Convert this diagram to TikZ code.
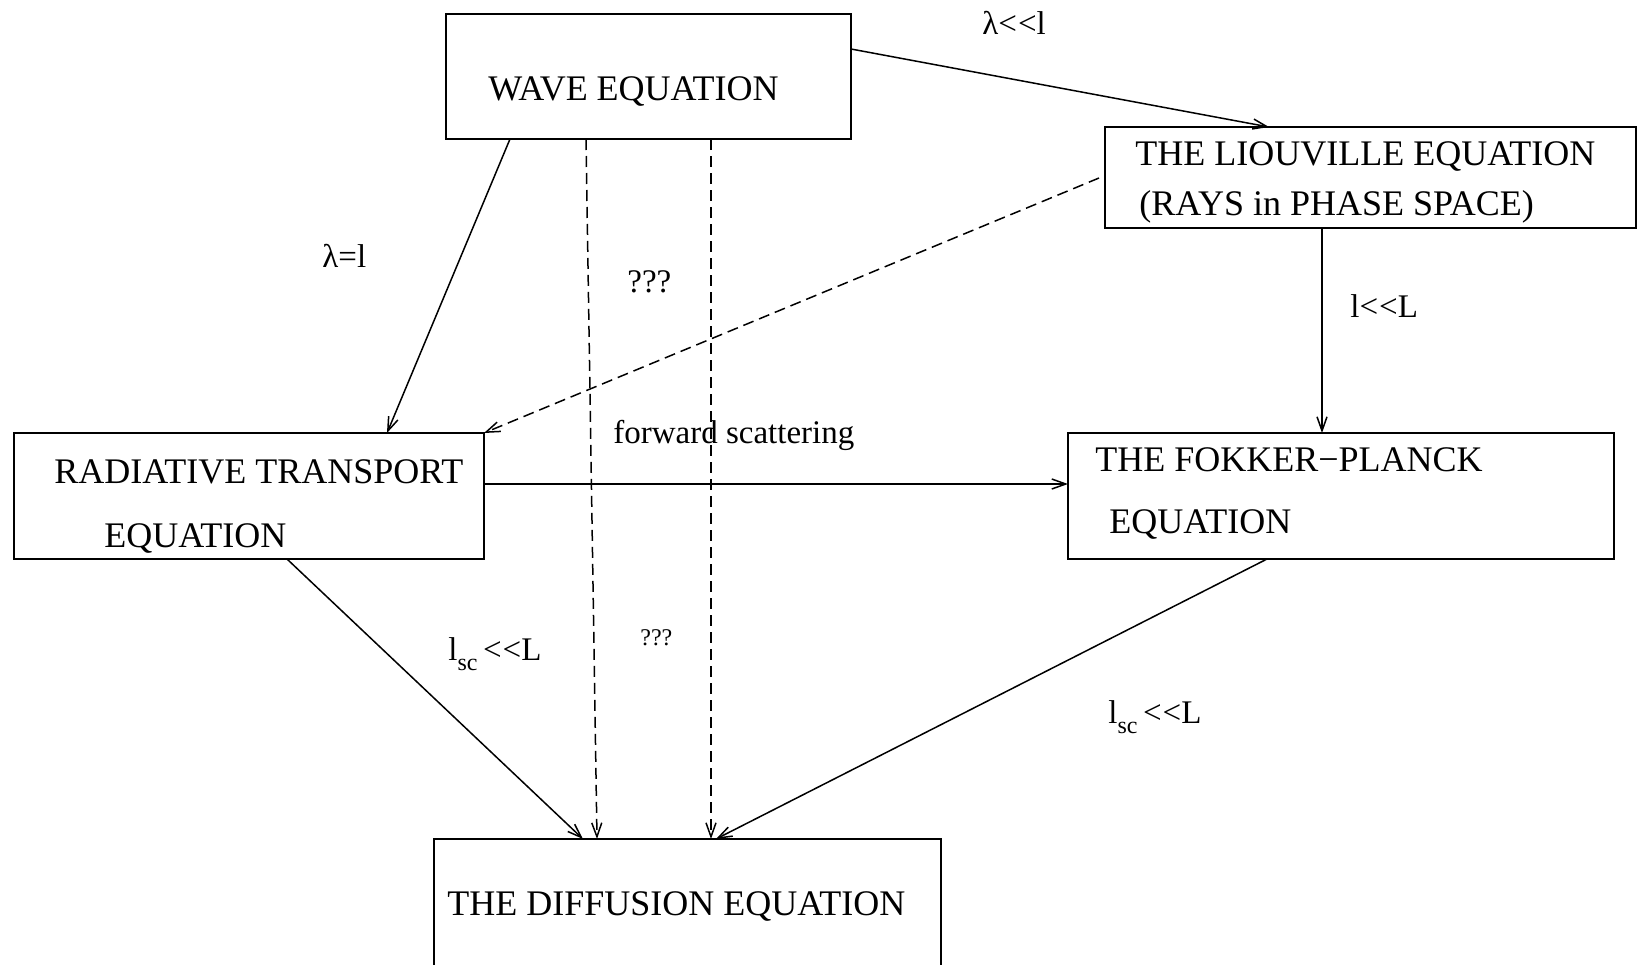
\documentclass[tikz,border=0pt]{standalone}
\usepackage{fontspec}
\setmainfont{Liberation Serif}
\usetikzlibrary{arrows.meta,calc}
\newcommand\lltwo{<\kern0.5pt<}
\begin{document}
\begin{tikzpicture}[x=0.5pt,y=-0.5pt,
  box/.style={draw, line width=1pt, inner sep=0pt, outer sep=0pt, rectangle},
  txt/.style={font=\fontsize{18}{21}\selectfont, inner sep=0pt, anchor=base west},
  lbl/.style={font=\fontsize{16.5}{19}\selectfont, inner sep=0pt, anchor=base west},
  arr/.style={line width=0.75pt, -{Straight Barb[length=7pt,width=5pt]}},
  dsh/.style={arr, dash pattern=on 5.5pt off 3pt}]
\useasboundingbox (0,0) rectangle (1638,964);
\clip (0,0) rectangle (1638,964);
% boxes
\node[box, minimum width=202.5pt, minimum height=62.5pt] (wave) at (648.5,76.5) {};
\node[box, minimum width=265.5pt, minimum height=50.5pt] (liou) at (1370.5,177.5) {};
\node[box, minimum width=235pt, minimum height=63pt] (rad) at (249,496) {};
\node[box, minimum width=273pt, minimum height=63pt] (fp) at (1341,496) {};
\node[box, minimum width=253.5pt, minimum height=75pt] (diff) at (687.5,914) {};
% box texts
\node[txt] (wavet) at (488,100) {WAVE EQUATION};
\node[txt] (liout1) at (1135,165) {THE LIOUVILLE EQUATION};
\node[txt] (liout2) at (1139,215) {(RAYS in PHASE SPACE)};
\node[txt] (radt1) at (54,483) {RADIATIVE TRANSPORT};
\node[txt] (radt2) at (104,547) {EQUATION};
\node[txt] (fpt1) at (1095,471) {THE FOKKER−PLANCK};
\node[txt] (fpt2) at (1109,533) {EQUATION};
\node[txt] (difft) at (447,915) {THE DIFFUSION EQUATION};
% connectors
\draw[arr] ($(wave.north east)+(0,35)$) -- ($(liou.north west)+(164,0)$);
\draw[arr] ($(wave.south west)+(64,0)$) -- ($(rad.north west)+(373,0)$);
\draw[dsh] ($(wave.south west)+(140,0)$) -- ($(diff.north west)+(163,0)$);
\draw[dsh] ($(wave.south west)+(265,0)$) -- ($(diff.north west)+(277,0)$);
\draw[dsh] ($(liou.north west)+(-6,51)$) -- (rad.north east);
\draw[arr] ($(liou.south west)+(217,0)$) -- ($(fp.north west)+(254,0)$);
\draw[arr] ($(rad.north east)+(0,51)$) -- ($(fp.north west)+(0,51)$);
\draw[arr] ($(rad.south west)+(273,0)$) -- ($(diff.north west)+(149,0)$);
\draw[arr] ($(fp.south west)+(199,0)$) -- ($(diff.north west)+(282,0)$);
% labels
\node[lbl] (l1) at (982,34) {λ\lltwo l};
\node[lbl] (l2) at (322,267) {λ=l};
\node[lbl] (q1) at (627,292) {???};
\node[lbl, font=\fontsize{12}{14}\selectfont] (q2) at (640,645) {???};
\node[lbl] (l3) at (1350,317) {l\lltwo L};
\node[lbl] (fs) at (613,443) {forward scattering};
\node[lbl] (l4) at (448,660) {l\raisebox{-0.7ex}{\fontsize{12}{14}\selectfont sc}\,\lltwo L};
\node[lbl] (l5) at (1108,723) {l\raisebox{-0.7ex}{\fontsize{12}{14}\selectfont sc}\,\lltwo L};
\end{tikzpicture}
\end{document}
